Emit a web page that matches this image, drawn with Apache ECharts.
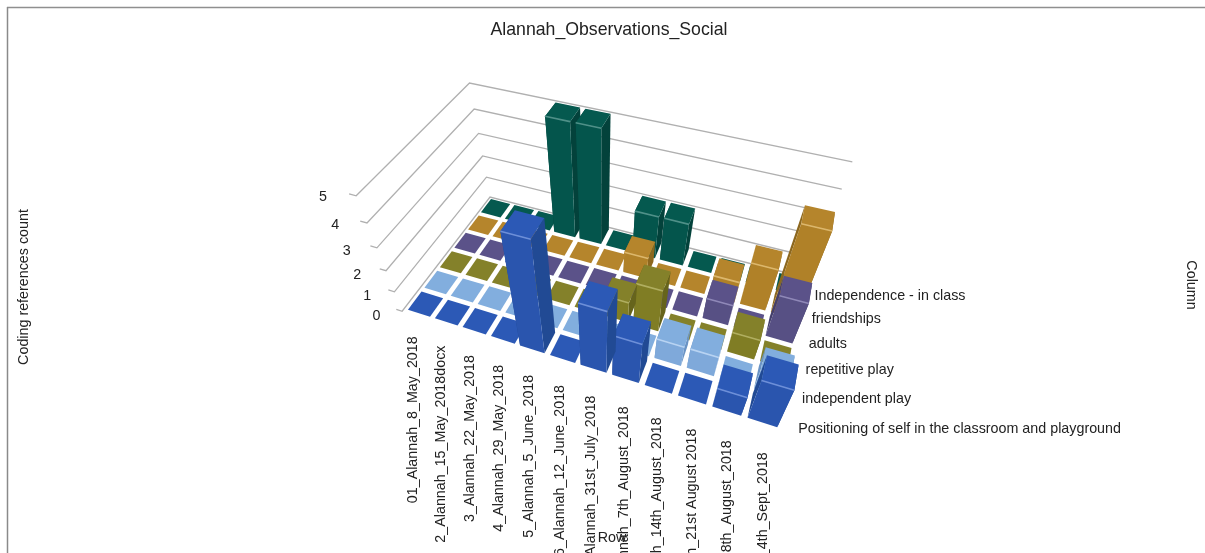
<!DOCTYPE html>
<html><head><meta charset="utf-8">
<style>html,body{margin:0;padding:0;background:#fff}#c{width:1205px;height:553px}</style>
<script src="https://cdn.jsdelivr.net/npm/echarts@6/dist/echarts.min.js"></script>
</head><body><div id="c"></div>
<script>
const dates = ['01_Alannah_8_May_2018','2_Alannah_15_May_2018docx','3_Alannah_22_May_2018','4_Alannah_29_May_2018','5_Alannah_5_June_2018','6_Alannah_12_June_2018','7_Alannah_31st_July_2018','8_Alannah_7th_August_2018','9_Alannah_14th_August_2018','10_Alannah_21st August 2018','11_Alannah_28th_August_2018','12_Alannah_4th_Sept_2018'];
const rowNames = ['Positioning of self in the classroom and playground','independent play','repetitive play','adults','friendships','Independence - in class'];
const positioning  = [0,0,0,0,5,0,3,2,0,0,1,2];
const independent  = [0,0,0,0,0,0,0,0,1,1,0,1];
const repetitive   = [0,0,0,0,0,0,1,2,0,0,1,0];
const adults       = [0,0,0,0,0,0,0,0,0,1,0,2];
const friendships  = [0,0,0,0,0,0,1,0,0,1,2,4];
const independence = [0,0,0,5,5,0,2,2,0,0,0,0];
const rowValues = [positioning,independent,repetitive,adults,friendships,independence];
const levels = [0,1,2,3,4,5];
const rowColors = [
 {top:'#2c59b6',front:'#2a55ae',side:'#214a94',edge:'#6d8fd8'},
 {top:'#82aede',front:'#7fa9da',side:'#6a93c4',edge:'#b8d3f2'},
 {top:'#84812a',front:'#807d24',side:'#66641c',edge:'#b0ae60'},
 {top:'#5b5289',front:'#575084',side:'#443f6c',edge:'#8f88b8'},
 {top:'#b5852c',front:'#b08128',side:'#8c671e',edge:'#dcb76c'},
 {top:'#05594f',front:'#04554c',side:'#03423b',edge:'#4f9088'}
];

// Camera model of the 3D plot: floor corners and the vertical vanishing point
const FL=[404,311],FR=[780,431],BR=[807,278],BL=[490,197],VP=[600,808];
const sx=FL[0]-FR[0]+BR[0]-BL[0], sy=FL[1]-FR[1]+BR[1]-BL[1];
const dx1=FR[0]-BR[0],dx2=BL[0]-BR[0],dy1=FR[1]-BR[1],dy2=BL[1]-BR[1];
const det=dx1*dy2-dx2*dy1;
const g=(sx*dy2-dx2*sy)/det,h=(dx1*sy-sx*dy1)/det;
const a=FR[0]-FL[0]+g*FR[0],b=BL[0]-FL[0]+h*BL[0];
const d=FR[1]-FL[1]+g*FR[1],e=BL[1]-FL[1]+h*BL[1];
const K=-0.03145*(h+1);
const nC=dates.length,nR=rowNames.length;
function proj(col,row,z){
  const u=col/nC,v=row/nR;
  const w=g*u+h*v+1+K*z;
  return [(a*u+b*v+FL[0]+K*z*VP[0])/w,(d*u+e*v+FL[1]+K*z*VP[1])/w];
}
const INSET=0.09;
const bars=[];
rowValues.forEach((vals,r)=>vals.forEach((val,c)=>bars.push([c,r,val])));
bars.sort((p,q)=>(q[1]-p[1])||(Math.abs(proj(q[0]+.5,q[1]+.5,0)[0]-VP[0])-Math.abs(proj(p[0]+.5,p[1]+.5,0)[0]-VP[0])));

function renderBar(params,api){
  const c=api.value(0),r=api.value(1),z=api.value(2);
  const col=rowColors[r];
  const P=(cc,rr,zz)=>api.coord(proj(cc,rr,zz));
  const x0=c+INSET,x1=c+1-INSET,y0=r+INSET,y1=r+1-INSET;
  const idx=params.dataIndex*10;
  const poly=(pts,fill,k)=>({type:'polygon',z2:idx+k,shape:{points:pts},style:{fill:fill}});
  const ch=[];
  if(z>0){
    ch.push(poly([P(x0,y0,0),P(x0,y1,0),P(x0,y1,z),P(x0,y0,z)],col.side,0));
    ch.push(poly([P(x1,y0,0),P(x1,y1,0),P(x1,y1,z),P(x1,y0,z)],col.side,1));
    ch.push(poly([P(x0,y0,0),P(x1,y0,0),P(x1,y0,z),P(x0,y0,z)],col.front,2));
  }
  ch.push(poly([P(x0,y0,z),P(x1,y0,z),P(x1,y1,z),P(x0,y1,z)],col.top,3));
  if(z>0){
    const s=P(x0,y0,z),t=P(x1,y0,z);
    ch.push({type:'line',z2:idx+4,shape:{x1:s[0],y1:s[1],x2:t[0],y2:t[1]},style:{stroke:col.edge,lineWidth:1.6}});
  }
  return {type:'group',children:ch};
}
function renderWall(params,api){
  const z=api.value(0);
  const pts=[proj(-0.27,-0.03,z),proj(-0.05,-0.03,z),proj(0,nR,z),proj(nC,nR,z)].map(p=>api.coord(p));
  return {type:'polyline',shape:{points:pts},style:{fill:'none',stroke:'#b0b0b0',lineWidth:1.3}};
}
const FONT='14.3px "Liberation Sans", Arial, sans-serif';
function renderLevelLabel(params,api){
  const z=api.value(0);
  const p=api.coord(proj(0,0,z));
  return {type:'text',x:p[0]-23.5-1.6*z,y:p[1]+5.5-0.7*z,style:{text:String(z),font:FONT,fill:'#222',align:'right',verticalAlign:'middle'}};
}
function renderDate(params,api){
  const c=api.value(0);
  const p=api.coord(proj(c+.5,0,0));
  return {type:'text',x:p[0]-4+0.5*c,y:p[1]+21+0.55*c,rotation:Math.PI/2,style:{text:dates[c],font:FONT,fill:'#222',align:'right',verticalAlign:'middle'}};
}
function renderRow(params,api){
  const r=api.value(0);
  const p=api.coord(proj(nC+.4,r+.5,0));
  return {type:'text',x:p[0]+1-r*0.8,y:p[1]+9-1*r,style:{text:rowNames[r],font:FONT,fill:'#222',align:'left',verticalAlign:'middle'}};
}
const chart=echarts.init(document.getElementById('c'),null,{renderer:'canvas'});
const base={type:'custom',coordinateSystem:'cartesian2d',clip:false,silent:true,animation:false};
chart.setOption({
  animation:false,backgroundColor:'#fff',
  title:{text:'Alannah_Observations_Social',left:604,top:16,textAlign:'center',
    textStyle:{fontSize:17.7,fontWeight:'normal',color:'#222',fontFamily:'"Liberation Sans", Arial, sans-serif'}},
  grid:{left:0,right:0,top:0,bottom:0},
  xAxis:{type:'value',min:0,max:1205,show:false},
  yAxis:{type:'value',min:0,max:553,inverse:true,show:false},
  graphic:[
    {type:'line',shape:{x1:7,y1:7.5,x2:1205,y2:7.5},style:{stroke:'#8f8f8f',lineWidth:1.5}},
    {type:'line',shape:{x1:7.5,y1:7,x2:7.5,y2:553},style:{stroke:'#8a8a8a',lineWidth:1.5}},
    {type:'text',x:24,y:287,rotation:Math.PI/2,style:{text:'Coding references count',font:FONT,fill:'#222',align:'center',verticalAlign:'middle'}},
    {type:'text',x:1191,y:285,rotation:-Math.PI/2,style:{text:'Column',font:FONT,fill:'#222',align:'center',verticalAlign:'middle'}},
    {type:'text',x:612,y:538,z:10,style:{text:'Row',font:FONT,fill:'#222',align:'center',verticalAlign:'middle'}}
  ],
  series:[
    Object.assign({},base,{name:'walls',z:1,data:levels.map(v=>[v]),encode:{x:0,y:0},renderItem:renderWall}),
    Object.assign({},base,{name:'levels',z:1,data:levels.map(v=>[v]),encode:{x:0,y:0},renderItem:renderLevelLabel}),
    Object.assign({},base,{name:'bars',z:2,data:bars,encode:{x:0,y:1},renderItem:renderBar}),
    Object.assign({},base,{name:'dates',z:3,data:dates.map((_,i)=>[i]),encode:{x:0,y:0},renderItem:renderDate}),
    Object.assign({},base,{name:'rows',z:3,data:rowNames.map((_,i)=>[i]),encode:{x:0,y:0},renderItem:renderRow})
  ]
});
</script></body></html>
